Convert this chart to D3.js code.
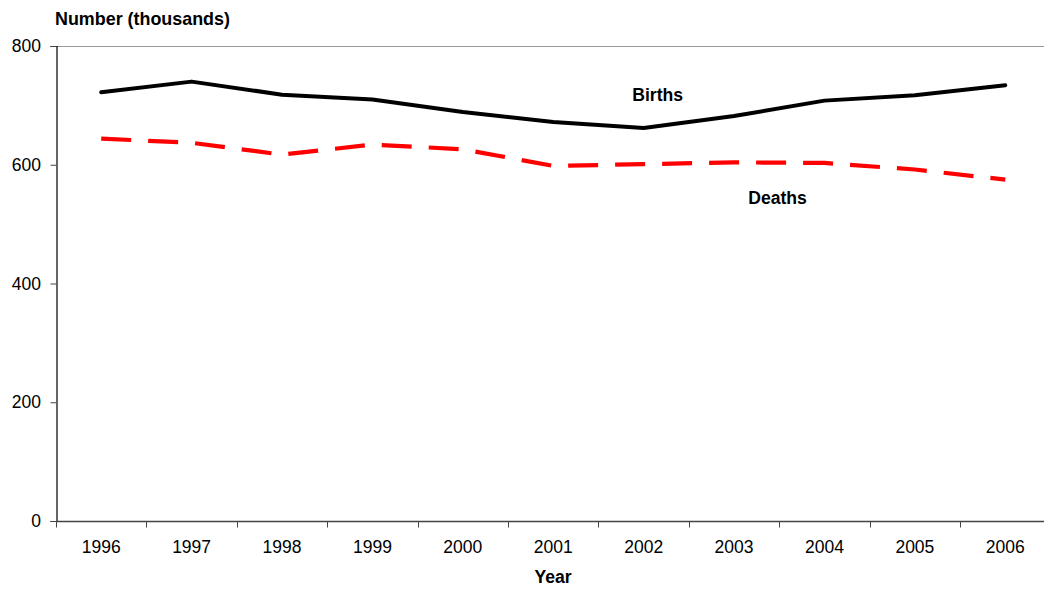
<!DOCTYPE html>
<html>
<head>
<meta charset="utf-8">
<script src="https://cdn.jsdelivr.net/npm/d3@7"></script>
<style>
  html, body { margin: 0; padding: 0; background: #fff; }
  svg { display: block; font-family: "Liberation Sans", Arial, sans-serif; }
</style>
</head>
<body>
<svg id="chart" width="1044" height="590"></svg>
<script>
const years = ["1996","1997","1998","1999","2000","2001","2002","2003","2004","2005","2006"];
const births = [722, 740, 718, 710, 689, 672, 662, 682, 708, 717, 734];
const deaths = [644, 637, 617, 634, 626, 598, 601, 604, 603, 592, 575];
const yTicks = [0, 200, 400, 600, 800];

const svg = d3.select("#chart");
const x0 = 56, x1 = 1050.5, yTop = 46, yBot = 521;

const x = d3.scaleBand().domain(years).range([x0, x1]).padding(0);
const y = d3.scaleLinear().domain([0, 800]).range([yBot, yTop]);
const cx = d => x(d) + x.bandwidth() / 2;

// top border of plot area
svg.append("line")
  .attr("x1", x0).attr("x2", x1).attr("y1", yTop + 0.5).attr("y2", yTop + 0.5)
  .attr("stroke", "#999").attr("stroke-width", 1);

// y axis
const yAxis = svg.append("g")
  .attr("transform", `translate(${x0 + 0.5},0)`)
  .call(d3.axisLeft(y).tickValues(yTicks).tickSize(6).tickPadding(9.5).tickFormat(d3.format("d")));
yAxis.select(".domain").attr("stroke", "#000").attr("stroke-width", 1.2);
yAxis.selectAll(".tick line").attr("stroke", "#444");
yAxis.selectAll(".tick text").attr("font-size", 17.5).attr("fill", "#000")
  .attr("font-family", "Liberation Sans, Arial, sans-serif");

// x axis with ticks at band boundaries
const xAxisG = svg.append("g").attr("transform", `translate(0,${yBot + 0.5})`);
xAxisG.append("line").attr("x1", x0).attr("x2", x1).attr("stroke", "#444").attr("stroke-width", 1.6);
const boundaries = years.map(d => x(d)).concat([x1]);
xAxisG.selectAll(".bt").data(boundaries).join("line")
  .attr("x1", d => Math.round(d) + 0.5).attr("x2", d => Math.round(d) + 0.5)
  .attr("y1", 0).attr("y2", 6).attr("stroke", "#444").attr("stroke-width", 1);
xAxisG.selectAll(".lbl").data(years).join("text")
  .attr("x", d => cx(d)).attr("y", 31.5)
  .attr("text-anchor", "middle").attr("font-size", 17.5).attr("fill", "#000")
  .text(d => d);

// lines
const line = d3.line().x((d, i) => cx(years[i])).y(d => y(d));
svg.append("path").datum(deaths).attr("d", line)
  .attr("fill", "none").attr("stroke", "#ff0000").attr("stroke-width", 4.2)
  .attr("stroke-dasharray", "30,17");
svg.append("path").datum(births).attr("d", line)
  .attr("fill", "none").attr("stroke", "#000").attr("stroke-width", 4)
  .attr("stroke-linejoin", "round").attr("stroke-linecap", "round");

// series labels
svg.append("text").attr("x", cx("2002") + 14).attr("y", 101)
  .attr("text-anchor", "middle").attr("font-size", 17.6).attr("font-weight", "bold").text("Births");
svg.append("text").attr("x", cx("2003") + 43.5).attr("y", 203.5)
  .attr("text-anchor", "middle").attr("font-size", 17.6).attr("font-weight", "bold").text("Deaths");

// axis titles
svg.append("text").attr("x", 55).attr("y", 25)
  .attr("font-size", 17.9).attr("font-weight", "bold").text("Number (thousands)");
svg.append("text").attr("x", 553).attr("y", 583)
  .attr("text-anchor", "middle").attr("font-size", 17.6).attr("font-weight", "bold").text("Year");
</script>
</body>
</html>
